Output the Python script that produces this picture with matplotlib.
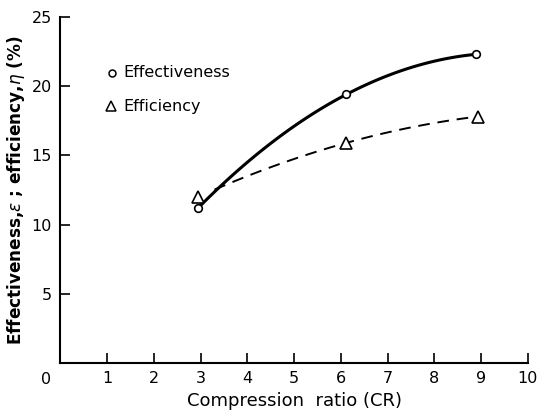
import matplotlib.pyplot as plt
import numpy as np

# values
cr_eff = [2.95, 6.12, 8.9]
effectiveness = [11.2, 19.4, 22.3]
cr_effic = [2.95, 6.12, 8.93]
efficiency = [12.0, 15.9, 17.8]

x_ticks = [1, 2, 3, 4, 5, 6, 7, 8, 9, 10]
y_ticks = [5, 10, 15, 20, 25]


def smooth(x, y, x0):
    # quadratic through the three measured points, for the drawn curve
    c = np.polyfit(x, y, 2)
    xs = np.linspace(x0, x[-1], 100)
    return xs, np.polyval(c, xs)


def main():
    fig = plt.figure(figsize=(5.38, 4.12), dpi=100)
    ax = fig.add_axes([0.112, 0.119, 0.869, 0.84])

    xs, ys = smooth(cr_eff, effectiveness, cr_eff[0])
    ax.plot(xs, ys, color='black', lw=2.2, zorder=2)
    xs, ys = smooth(cr_effic, efficiency, 3.3)
    ax.plot(xs, ys, color='black', lw=1.4, dashes=(6, 4), zorder=2)

    ax.plot(cr_eff, effectiveness, 'o', ms=5.5, mfc='white', mec='black', mew=1.2, zorder=3)
    ax.plot(cr_effic, efficiency, '^', ms=8, mfc='white', mec='black', mew=1.2, zorder=3)

    # legend drawn by hand, as in the original figure
    ax.plot([0.11], [0.838], 'o', ms=5, mfc='white', mec='black', mew=1.1,
            transform=ax.transAxes, clip_on=False)
    ax.text(0.135, 0.838, 'Effectiveness', transform=ax.transAxes, va='center', fontsize=11.5)
    ax.plot([0.108], [0.742], '^', ms=7.5, mfc='white', mec='black', mew=1.1,
            transform=ax.transAxes, clip_on=False)
    ax.text(0.135, 0.742, 'Efficiency', transform=ax.transAxes, va='center', fontsize=11.5)

    ax.set_xlim(0, 10)
    ax.set_ylim(0, 25)
    ax.set_xticks(x_ticks)
    ax.set_yticks(y_ticks)
    ax.tick_params(direction='in', length=7, width=1.2, labelsize=11.5, pad=6)
    ax.text(-0.3, -0.027, '0', transform=ax.get_xaxis_transform(), ha='center', va='top', fontsize=11.5)

    for side in ['top', 'right']:
        ax.spines[side].set_visible(False)
    for side in ['left', 'bottom']:
        ax.spines[side].set_linewidth(1.5)

    ax.set_xlabel('Compression  ratio (CR)', fontsize=13, labelpad=4)
    ax.set_ylabel(r'Effectiveness,$\epsilon$ ; efficiency,$\eta$ (%)', fontsize=12.2,
                  fontweight='bold', labelpad=3)

    fig.savefig('out.png', dpi=100)


if __name__ == "__main__":
    main()
